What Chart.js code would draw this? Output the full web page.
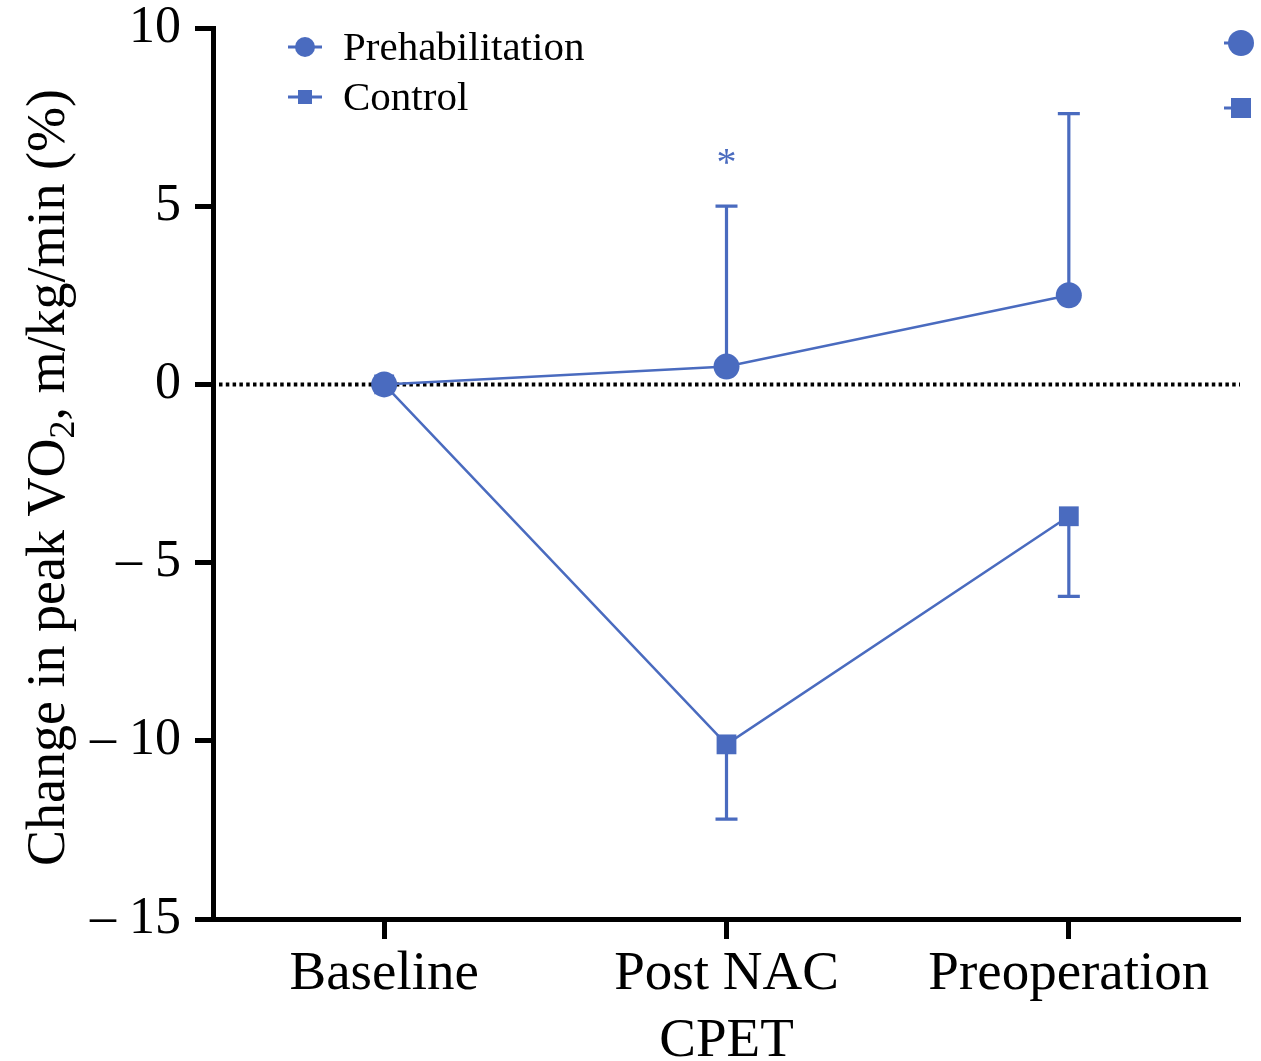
<!DOCTYPE html>
<html>
<head>
<meta charset="utf-8">
<script src="https://cdn.jsdelivr.net/npm/chart.js@4.4.1/dist/chart.umd.min.js"></script>
<style>
  html, body { margin: 0; padding: 0; background: #fff; }
  #wrap { width: 1261px; height: 1061px; }
</style>
</head>
<body>
<div id="wrap"><canvas id="vo2-chart"></canvas></div>
<script>
// values
const categories = ['Baseline', ['Post NAC', 'CPET'], 'Preoperation'];
const prehabMean = [0, 0.5, 2.5];
const prehabUpper = [null, 5.0, 7.6];
const controlMean = [0, -10.1, -3.7];
const controlLower = [null, -12.2, -5.95];
const yTicks = [-15, -10, -5, 0, 5, 10];
const marks = ['', '*', ''];
const markAt = [null, 6.4, null];

const blue = '#4a6bbf';
const serif = '"Liberation Serif", "Times New Roman", serif';

// error bars, zero line, significance marks
const extras = {
  id: 'extras',
  beforeDatasetsDraw(chart) {
    const ctx = chart.ctx, a = chart.chartArea;
    const y0 = chart.scales.y.getPixelForValue(0);
    ctx.save();
    ctx.strokeStyle = '#000';
    ctx.lineWidth = 4;
    ctx.setLineDash([3.5, 3.3]);
    ctx.beginPath();
    ctx.moveTo(a.left + 6, y0);
    ctx.lineTo(a.right, y0);
    ctx.stroke();
    ctx.restore();

    const xs = chart.scales.x, ys = chart.scales.y;
    const bars = [[prehabMean, prehabUpper], [controlMean, controlLower]];
    ctx.save();
    ctx.strokeStyle = blue;
    ctx.lineWidth = 3.2;
    bars.forEach(([mean, end]) => {
      end.forEach((e, i) => {
        if (e === null) return;
        const x = xs.getPixelForValue(i);
        const ya = ys.getPixelForValue(mean[i]);
        const yb = ys.getPixelForValue(e);
        ctx.beginPath();
        ctx.moveTo(x, ya);
        ctx.lineTo(x, yb);
        ctx.moveTo(x - 11, yb);
        ctx.lineTo(x + 11, yb);
        ctx.stroke();
      });
    });
    ctx.fillStyle = blue;
    ctx.font = '40px ' + serif;
    ctx.textAlign = 'center';
    ctx.textBaseline = 'middle';
    marks.forEach((m, i) => {
      if (!m) return;
      ctx.fillText(m, xs.getPixelForValue(i), ys.getPixelForValue(markAt[i]) + 8);
    });
    ctx.restore();
  },
  afterDraw(chart) {
    const ctx = chart.ctx, a = chart.chartArea;
    // y title with subscript
    ctx.save();
    const big = '54px ' + serif, small = '36px ' + serif;
    const parts = [['Change in peak VO', big, 0], ['2', small, 10], [', m/kg/min (%)', big, 0]];
    let total = 0;
    parts.forEach(p => { ctx.font = p[1]; total += ctx.measureText(p[0]).width; });
    ctx.translate(64, (a.top + a.bottom) / 2 + 4);
    ctx.rotate(-Math.PI / 2);
    ctx.fillStyle = '#000';
    ctx.textBaseline = 'alphabetic';
    let x = -total / 2;
    parts.forEach(p => {
      ctx.font = p[1];
      ctx.fillText(p[0], x, p[2]);
      x += ctx.measureText(p[0]).width;
    });
    ctx.restore();

    // legend
    const glyph = (ds, cx, cy, leftOnly) => {
      ctx.strokeStyle = blue;
      ctx.fillStyle = blue;
      ctx.lineWidth = 3;
      ctx.beginPath();
      ctx.moveTo(cx - 17, cy);
      ctx.lineTo(leftOnly ? cx : cx + 17, cy);
      ctx.stroke();
      ctx.beginPath();
      if (ds.pointStyle === 'circle') {
        ctx.arc(cx, cy, leftOnly ? 13 : 10, 0, Math.PI * 2);
      } else {
        const s = leftOnly ? 10 : 7;
        ctx.rect(cx - s, cy - s, 2 * s, 2 * s);
      }
      ctx.fill();
    };
    ctx.save();
    chart.data.datasets.forEach((ds, i) => {
      const cy = a.top + 19 + i * 50;
      glyph(ds, a.left + 92, cy, false);
      ctx.fillStyle = '#000';
      ctx.font = 'normal 41px ' + serif;
      ctx.textAlign = 'left';
      ctx.textBaseline = 'middle';
      ctx.fillText(ds.label, a.left + 130, cy + 2);
      // cut-off legend glyphs at the right edge
      glyph(ds, a.right + 1, a.top + 15 + i * 65, true);
    });
    ctx.restore();
  }
};

new Chart(document.getElementById('vo2-chart'), {
  type: 'line',
  data: {
    labels: categories,
    datasets: [{
      label: 'Prehabilitation',
      data: prehabMean,
      borderColor: blue,
      backgroundColor: blue,
      borderWidth: 2.5,
      pointStyle: 'circle',
      pointRadius: 13,
      pointBorderWidth: 0,
      tension: 0
    }, {
      label: 'Control',
      data: controlMean,
      borderColor: blue,
      backgroundColor: blue,
      borderWidth: 2.5,
      pointStyle: 'rect',
      pointRadius: 14,
      pointBorderWidth: 0,
      tension: 0
    }]
  },
  options: {
    responsive: true,
    maintainAspectRatio: false,
    animation: false,
    layout: { padding: { top: 28, right: 21, left: 0, bottom: 0 } },
    plugins: {
      legend: { display: false },
      tooltip: { enabled: false }
    },
    scales: {
      x: {
        offset: true,
        afterFit(scale) {
          scale.height = 142;
          scale.paddingLeft = 0;
          scale.paddingRight = 0;
        },
        grid: {
          offset: false,
          drawOnChartArea: false,
          drawTicks: true,
          tickLength: 20,
          tickWidth: 5,
          tickColor: '#000'
        },
        border: { display: true, color: '#000', width: 5 },
        ticks: {
          color: '#000',
          font: { family: serif, size: 55, lineHeight: 1.22 },
          padding: 2,
          maxRotation: 0,
          autoSkip: false
        }
      },
      y: {
        min: -15,
        max: 10,
        afterFit(scale) {
          scale.width = 213;
          scale.paddingTop = 0;
          scale.paddingBottom = 0;
        },
        afterBuildTicks(scale) { scale.ticks = yTicks.map(v => ({ value: v })); },
        grid: {
          drawOnChartArea: false,
          drawTicks: true,
          tickLength: 18,
          tickWidth: 5,
          tickColor: '#000'
        },
        border: { display: true, color: '#000', width: 5 },
        ticks: {
          color: '#000',
          font: { family: serif, size: 52 },
          padding: 14,
          callback: v => v < 0 ? '\u2013 ' + Math.abs(v) : String(v)
        }
      }
    }
  },
  plugins: [extras]
});
</script>
</body>
</html>
